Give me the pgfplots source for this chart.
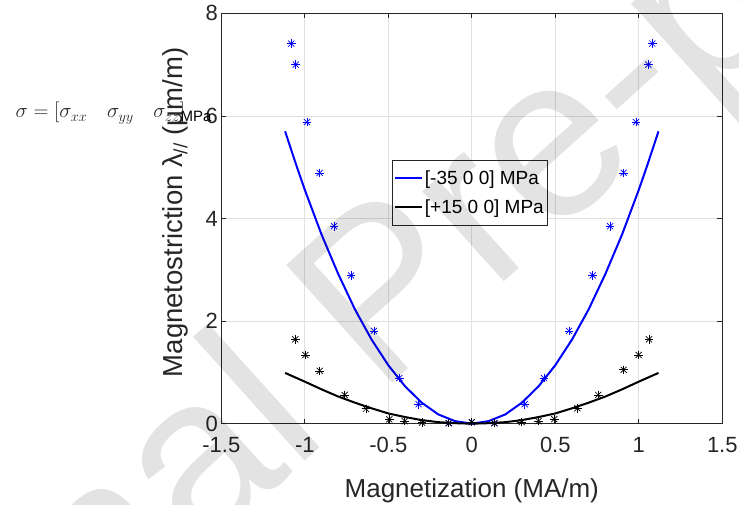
\documentclass[border=0pt]{standalone}
\usepackage{fontspec}
\setmainfont{Liberation Sans}
\usepackage{pgfplots}
\usepackage{pgfplotstable}
\pgfplotsset{compat=1.18}
\definecolor{axgray}{RGB}{38,38,38}
\definecolor{mblue}{RGB}{0,0,255}

% measured points (MA/m, um/m)
\pgfplotstableread{
x y
-1.081 7.41
-1.054 7.00
-0.987 5.88
-0.911 4.89
-0.825 3.85
-0.723 2.89
-0.586 1.81
-0.434 0.89
-0.318 0.38
-0.138 0.01
0 0.03
0.136 0.01
0.317 0.38
0.432 0.89
0.582 1.81
0.724 2.89
0.828 3.85
0.909 4.89
0.983 5.88
1.057 7.00
1.081 7.41
}\compdata
\pgfplotstableread{
x y
-1.057 1.645
-0.997 1.34
-0.911 1.03
-0.761 0.56
-0.634 0.29
-0.494 0.085
-0.402 0.05
-0.298 0.02
-0.138 0.01
0 0.03
0.135 0.01
0.299 0.03
0.400 0.05
0.494 0.09
0.632 0.30
0.757 0.56
0.909 1.05
0.999 1.34
1.061 1.645
}\tensdata

\begin{document}
\begin{tikzpicture}[x=1pt,y=1pt]
\path[use as bounding box] (-221.3,-80.3) rectangle (517.7,423.7);
\begin{axis}[
  at={(0,0)}, anchor=south west,
  scale only axis, width=501pt, height=410.4pt,
  xmin=-1.5, xmax=1.5, ymin=0, ymax=8,
  xtick={-1.5,-1,-0.5,0,0.5,1,1.5},
  ytick={0,2,4,6,8},
  tick pos=both,
  grid=major,
  major grid style={black!12, line width=0.8pt},
  axis line style={axgray, line width=0.8pt},
  tick style={axgray, line width=0.8pt},
  tick align=inside, major tick length=5pt,
  /pgf/number format/assume math mode=true,
  ticklabel style={font=\fontsize{22}{26}\selectfont, text=axgray},
  xticklabel style={yshift=-10pt},
  xlabel={Magnetization (MA/m)},
  ylabel={Magnetostriction λ\textsubscript{//} (μm/m)},
  xlabel style={font=\fontsize{26}{30}\selectfont, text=axgray,
    at={(axis description cs:0.5,0)}, anchor=base, yshift=-74pt},
  ylabel style={font=\fontsize{27.5}{30}\selectfont, text=axgray,
    at={(axis description cs:-0.0924,0.515)}, anchor=center},
  clip=false,
  legend style={at={(axis cs:-0.48,5.14)}, anchor=north west,
    draw=axgray, line width=0.6pt, fill=white,
    font=\fontsize{19}{22}\selectfont, text=black,
    inner xsep=2pt, inner ysep=8pt, row sep=10pt},
  legend cell align=left,
  legend image code/.code={\draw[#1] (0pt,0pt) -- (27pt,0pt);},
]
\addplot[mblue, line width=2pt] coordinates {
  (-1.118,5.70) (-1.05,5.03) (-1.0,4.56) (-0.9,3.69) (-0.8,2.92)
  (-0.7,2.23) (-0.6,1.64) (-0.5,1.14) (-0.4,0.73) (-0.3,0.41)
  (-0.2,0.18) (-0.1,0.05) (0,0)
  (0.1,0.05) (0.2,0.18) (0.3,0.41) (0.4,0.73) (0.5,1.14)
  (0.6,1.64) (0.7,2.23) (0.8,2.92) (0.9,3.69) (1.0,4.56)
  (1.05,5.03) (1.118,5.70)
};
\addlegendentry{\relax[-35 0 0] MPa}
\addplot[black, line width=2pt] coordinates {
  (-1.118,0.99) (-1.0,0.82) (-0.9,0.67) (-0.8,0.53) (-0.7,0.41)
  (-0.6,0.30) (-0.5,0.20) (-0.4,0.13) (-0.3,0.07) (-0.2,0.03)
  (-0.1,0.01) (0,0)
  (0.1,0.01) (0.2,0.03) (0.3,0.07) (0.4,0.13) (0.5,0.20)
  (0.6,0.30) (0.7,0.41) (0.8,0.53) (0.9,0.67) (1.0,0.82) (1.118,0.99)
};
\addlegendentry{\relax[+15 0 0] MPa}
% MATLAB '*' marker = plus + cross
\addplot[forget plot, only marks, mark=+, mark size=4.3pt, mblue, mark options={line width=0.7pt}] table {\compdata};
\addplot[forget plot, only marks, mark=x, mark size=4.3pt, mblue, mark options={line width=0.7pt}] table {\compdata};
\addplot[forget plot, only marks, mark=+, mark size=4.3pt, black, mark options={line width=0.7pt}] table {\tensdata};
\addplot[forget plot, only marks, mark=x, mark size=4.3pt, black, mark options={line width=0.7pt}] table {\tensdata};
\end{axis}
\node[anchor=base west, text=axgray, font=\fontsize{19.5}{22}\selectfont] at (-209.3,305.7)
  {$\sigma=[\sigma_{xx}\quad\sigma_{yy}\quad\sigma_{zz}]$};
\node[anchor=base west, text=black, font=\fontsize{15}{18}\selectfont] at (-44.3,302) {MPa};
% watermark
\node[rotate=42, text=black, opacity=0.11, font=\fontsize{230}{230}\selectfont] at (170,120) {Journal Pre-proof};
\end{tikzpicture}
\end{document}
